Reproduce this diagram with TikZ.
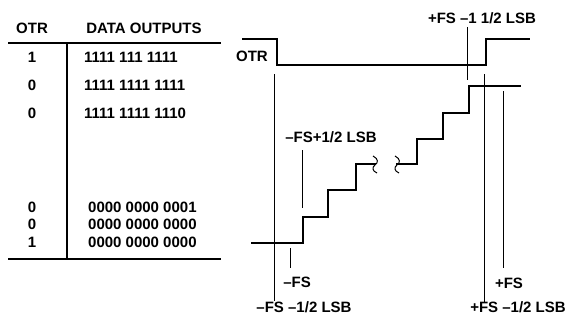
\documentclass[tikz,border=0pt]{standalone}
\usepackage{fontspec}
\setmainfont{Liberation Sans}
\usetikzlibrary{positioning}

\begin{document}
\begin{tikzpicture}[
    x=1pt, y=-1pt,
    txt/.style={font=\fontsize{15}{17}\selectfont\bfseries, inner sep=0pt},
    rule/.style={line width=1.3pt},
    wave/.style={line width=2.2pt, line join=miter},
    lead/.style={line width=0.9pt}
]
\useasboundingbox (0,0) rectangle (567,321);

% Table: header
\node[txt] (hotr) at (32,28) {OTR};
\node[txt] (hdata) at (144,28) {DATA OUTPUTS};
\draw[rule] (8,43) -- (221,43);
\draw[rule] (67,43) -- (67,259);
\draw[rule] (8,259) -- (221,259);

% Table: rows
\node[txt] (o1) at (32,57) {1};
\node[txt] (o2) at (32,85) {0};
\node[txt] (o3) at (32,113) {0};
\node[txt] (o4) at (32,207) {0};
\node[txt] (o5) at (32,224) {0};
\node[txt] (o6) at (32,242) {1};
\node[txt, anchor=west] (d1) at (84,57) {1111 111 1111};
\node[txt, anchor=west] (d2) at (84,85) {1111 1111 1111};
\node[txt, anchor=west] (d3) at (84,113) {1111 1111 1110};
\node[txt, anchor=west] (d4) at (88,207) {0000 0000 0001};
\node[txt, anchor=west] (d5) at (88,224) {0000 0000 0000};
\node[txt, anchor=west] (d6) at (88,242) {0000 0000 0000};

% OTR waveform
\node[txt, anchor=east] (otr) at (268,56) {OTR};
\draw[wave] (242,39) -- (277,39) -- (277,65) -- (486,65) -- (486,39) -- (530,39);

% Transfer staircase (lower part)
\draw[wave] (251,243) -- (303,243) -- (303,217) -- (328,217) -- (328,190)
    -- (356,190) -- (356,164) -- (376,164);
% Transfer staircase (upper part)
\draw[wave] (396,164) -- (417,164) -- (417,139) -- (443,139) -- (443,113)
    -- (469,113) -- (469,86) -- (521,86);

% Break marks
\draw[lead, line width=1pt] (373,156) .. controls (379,159) and (378,163) .. (375,165)
    .. controls (372,167) and (372,171) .. (377,173);
\draw[lead, line width=1pt] (395,156) .. controls (401,159) and (400,163) .. (397,165)
    .. controls (394,167) and (394,171) .. (399,173);

% Labels and leader lines
\node[txt] (lfsh) at (304,307) {–FS –1/2 LSB};
\node[txt] (lfs) at (297,282) {–FS};
\node[txt] (lfsp) at (331,137) {–FS+1/2 LSB};
\node[txt] (lpfs) at (482,18) {+FS –1 1/2 LSB};
\node[txt] (rfs) at (509,283) {+FS};
\node[txt] (rfsh) at (518,307) {+FS –1/2 LSB};

\draw[lead] (274,74) -- (274,301);
\draw[lead] (290,248) -- (290,268);
\draw[lead] (302,150) -- (302,208);
\draw[lead] (467,27) -- (467,80);
\draw[lead] (484,74) -- (484,302);
\draw[lead] (503,91) -- (503,268);
\end{tikzpicture}
\end{document}
